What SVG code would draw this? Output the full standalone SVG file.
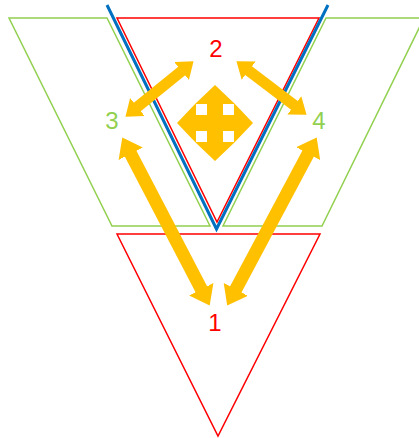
<svg xmlns="http://www.w3.org/2000/svg" width="419" height="438" viewBox="0 0 419 438">
  <style>
    .green { fill: none; stroke: #92D050; stroke-width: 1.5; }
    .red { fill: none; stroke: #FF0000; stroke-width: 1.5; }
    .blue { fill: none; stroke: #0070C0; stroke-width: 3; }
    .lbl { font-family: "Liberation Sans", Arial, sans-serif; font-size: 24px; text-anchor: middle; }
    .lred { fill: #FF0000; }
    .lgreen { fill: #92D050; }
    .arr { stroke: #FFC000; fill: none; marker-start: url(#head); marker-end: url(#head); }
  </style>
  <defs>
    <marker id="head" viewBox="0 -1.05 1.4 2.1" markerWidth="1.4" markerHeight="2.1" refX="0.05" refY="0" orient="auto-start-reverse" markerUnits="strokeWidth">
      <path d="M0,-1.05 L1.4,0 L0,1.05 Z" fill="#FFC000"/>
    </marker>
  </defs>
  <rect width="419" height="438" fill="#FFFFFF"/>

  <g id="node-3">
    <polygon class="green" points="9,18 107,18 210,226 112,226"/>
  </g>
  <g id="node-4">
    <polygon class="green" points="326,18 424,18 322,226 223,226"/>
  </g>
  <g id="node-2">
    <polygon class="red" points="117,18 319,18 217,222"/>
  </g>
  <g id="divider">
    <polyline class="blue" points="107,5 216.5,229 328,5"/>
  </g>
  <g id="node-1">
    <polygon class="red" points="117,234 320,234 218,436"/>
  </g>

  <g id="connectors">
    <line class="arr" stroke-width="11" x1="136.95" y1="107.3" x2="182.05" y2="70.7"/>
    <line class="arr" stroke-width="11" x1="248.26" y1="70.32" x2="294.74" y2="105.68"/>
    <line class="arr" stroke-width="13" x1="130.41" y1="153.14" x2="201.59" y2="289.86"/>
    <line class="arr" stroke-width="13" x1="308.45" y1="153.06" x2="235.45" y2="289.94"/>
  </g>

  <g id="quad-arrow" transform="translate(215,123)">
    <polygon fill="#FFC000" points="0,-38 20,-19 8,-19 8,-8 19,-8 19,-20 38,0 19,20 19,8 8,8 8,19 20,19 0,38 -20,19 -8,19 -8,8 -19,8 -19,20 -38,0 -19,-20 -19,-8 -8,-8 -8,-19 -20,-19"/>
  </g>

  <g id="labels">
    <text class="lbl lred" x="216" y="57">2</text>
    <text class="lbl lgreen" x="112" y="129">3</text>
    <text class="lbl lgreen" x="319" y="129">4</text>
    <text class="lbl lred" x="215" y="331">1</text>
  </g>
</svg>
